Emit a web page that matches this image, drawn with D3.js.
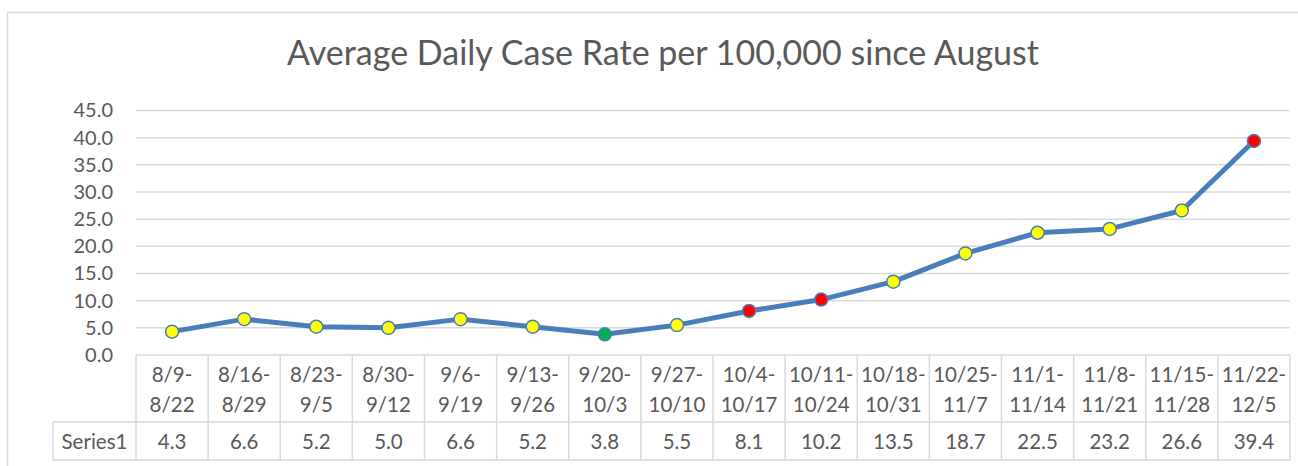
<!DOCTYPE html>
<html><head><meta charset="utf-8">
<script src="https://cdn.jsdelivr.net/npm/d3@7"></script>
<style>body{margin:0;background:#fff}svg{display:block}text{font-family:Lato,"Open Sans",sans-serif;fill:#595959}</style>
</head><body><svg id="c" width="1298" height="466"></svg>
<script>
const title = "Average Daily Case Rate per 100,000 since August";
const seriesName = "Series1";
const categories = ["8/9-8/22","8/16-8/29","8/23-9/5","8/30-9/12","9/6-9/19","9/13-9/26","9/20-10/3","9/27-10/10","10/4-10/17","10/11-10/24","10/18-10/31","10/25-11/7","11/1-11/14","11/8-11/21","11/15-11/28","11/22-12/5"];
const values = [4.3,6.6,5.2,5.0,6.6,5.2,3.8,5.5,8.1,10.2,13.5,18.7,22.5,23.2,26.6,39.4];
const markerColors = ["yellow","yellow","yellow","yellow","yellow","yellow","green","yellow","red","red","yellow","yellow","yellow","yellow","yellow","red"];
const yTicks = [0,5,10,15,20,25,30,35,40,45];

const colorMap = {yellow:"#FFFF00", red:"#FF0000", green:"#00B050"};
const svg = d3.select("#c");
const grid = "#d9d9d9";

// outer chart border
svg.append("path").attr("d","M7.5,466 V12.5 H1298").attr("fill","none").attr("stroke",grid).attr("stroke-width",1.5);

// title
const t = svg.append("text").attr("x",663).attr("y",65).attr("text-anchor","middle").style("font-size","28px").text(title);
const w = t.node().getComputedTextLength();
t.style("font-size",(28*752/w).toFixed(2)+"px");

const x = d3.scaleBand().domain(categories).range([136,1290]);
const y = d3.scaleLinear().domain([0,45]).range([355,110.5]);

// gridlines
svg.append("g").selectAll("line").data(yTicks).join("line")
  .attr("x1",136).attr("x2",1290).attr("y1",d=>y(d)).attr("y2",d=>y(d))
  .attr("stroke",grid).attr("stroke-width",1.5);

// y axis labels
const yAxis = svg.append("g").attr("transform","translate(136,0)")
  .call(d3.axisLeft(y).tickValues(yTicks).tickFormat(d3.format(".1f")).tickSize(0).tickPadding(23));
yAxis.select(".domain").remove();
yAxis.selectAll("text").style("font-size","20px").attr("fill","#595959").style("font-family","Lato");

// table lines
const tg = svg.append("g").attr("stroke",grid).attr("stroke-width",1.5);
const bounds = categories.map(c=>x(c)).concat([x.range()[1]]);
tg.selectAll("line.v").data(bounds).join("line").attr("class","v")
  .attr("x1",d=>d).attr("x2",d=>d).attr("y1",355).attr("y2",460);
tg.append("line").attr("x1",53).attr("x2",53).attr("y1",422).attr("y2",460);
tg.append("line").attr("x1",53).attr("x2",1290).attr("y1",422).attr("y2",422);
tg.append("line").attr("x1",53).attr("x2",1290).attr("y1",460).attr("y2",460);

// header labels
const fs = "20.5px";
const hg = svg.append("g").style("font-size",fs).attr("text-anchor","middle");
categories.forEach(c=>{
  const i = c.indexOf("-");
  const cx = x(c)+x.bandwidth()/2;
  hg.append("text").attr("x",cx).attr("y",382).text(c.slice(0,i+1));
  hg.append("text").attr("x",cx).attr("y",412).text(c.slice(i+1));
});
// data row
svg.append("text").attr("x",94.5).attr("y",448.5).attr("text-anchor","middle").style("font-size",fs).text(seriesName);
svg.append("g").style("font-size",fs).attr("text-anchor","middle")
  .selectAll("text").data(values).join("text")
  .attr("x",(d,i)=>x(categories[i])+x.bandwidth()/2).attr("y",448.5)
  .text(d=>d3.format(".1f")(d));

// line
const line = d3.line().x((d,i)=>x(categories[i])+x.bandwidth()/2).y(d=>y(d));
svg.append("path").datum(values).attr("d",line).attr("fill","none")
  .attr("stroke","#4A7EBB").attr("stroke-width",5).attr("stroke-linejoin","round");
svg.append("g").selectAll("circle").data(values).join("circle")
  .attr("cx",(d,i)=>x(categories[i])+x.bandwidth()/2).attr("cy",d=>y(d)).attr("r",6.5)
  .attr("fill",(d,i)=>colorMap[markerColors[i]]).attr("stroke","#4A7EBB").attr("stroke-width",1.5);
</script></body></html>
